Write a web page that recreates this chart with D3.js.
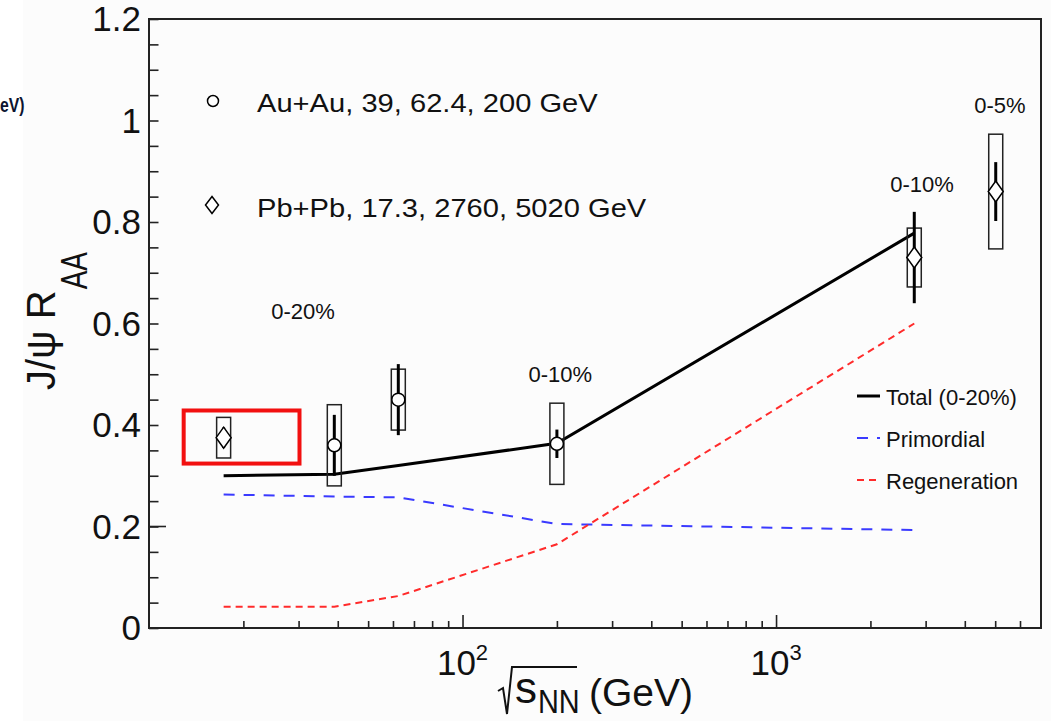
<!DOCTYPE html>
<html>
<head>
<meta charset="utf-8">
<script src="https://cdn.jsdelivr.net/npm/d3@7"></script>
<style>
  html, body { margin: 0; padding: 0; background: #ffffff; }
  svg { display: block; font-family: "Liberation Sans", Arial, Helvetica, sans-serif; }
</style>
</head>
<body>
<svg id="chart" width="1051" height="721"></svg>
<script>
// ---- Au+Au measurements (39, 62.4, 200 GeV) ----
const auAuEnergy = [39, 62.4, 200];
const auAuRaa    = [0.36, 0.45, 0.363];
const auAuStat   = [0.06, 0.07, 0.028];
const auAuSys    = [0.08, 0.06, 0.08];

// ---- Pb+Pb measurements (17.3, 2760, 5020 GeV) ----
const pbPbEnergy = [17.3, 2760, 5020];
const pbPbRaa    = [0.375, 0.73, 0.86];
const pbPbStat   = [0.02, 0.09, 0.058];
const pbPbSys    = [0.04, 0.058, 0.113];

// ---- transport model, 0-20% ----
const modelEnergy     = [17.3, 39, 62.4, 200, 2760];
const totalRaa        = [0.300, 0.303, 0.320, 0.364, 0.778];
const primordialRaa   = [0.263, 0.259, 0.2575, 0.205, 0.193];
const regenerationRaa = [0.042, 0.042, 0.063, 0.165, 0.600];

// ---- centrality labels ----
const centralityText = ["0-20%", "0-10%", "0-10%", "0-5%"];

// ---- axis ticks ----
const yMajorTicks = [0, 0.2, 0.4, 0.6, 0.8, 1.0, 1.2];
const yMinorTicks = d3.range(0, 1.2001, 0.05);
const xMajorTicks = [100, 1000];
const xMinorTicks = [20, 30, 40, 50, 60, 70, 80, 90, 200, 300, 400, 500, 600, 700, 800, 900, 2000, 3000, 4000, 5000, 6000];

// ---- legend entries ----
const dataLegend  = ["Au+Au, 39, 62.4, 200 GeV", "Pb+Pb, 17.3, 2760, 5020 GeV"];
const modelLegend = ["Total (0-20%)", "Primordial", "Regeneration"];

// ================= layout =================
const frame = { left: 149, right: 1041, top: 19, bottom: 628 };
const x = d3.scaleLog().domain([10, 7000]).range([frame.left, frame.right]);
const y = d3.scaleLinear().domain([0, 1.2]).range([frame.bottom, frame.top]);

const ink = "#111";
const blue = "#3a3aff";
const red = "#ff2b2b";
const boxHalfW = 7;

const svg = d3.select("#chart");

// page background
svg.append("rect").attr("width", 1051).attr("height", 721).attr("fill", "#ffffff");
svg.append("rect").attr("x", 23).attr("width", 1028).attr("height", 721).attr("fill", "#fcfcfc");

// caption fragment at the left edge
svg.append("text")
  .attr("transform", "translate(0,112) scale(0.75,1)")
  .attr("font-size", 21).attr("font-weight", "bold")
  .attr("fill", "#0c1430")
  .text("eV)");

// ---------------- axes ----------------
const gx = svg.append("g").attr("transform", `translate(0,${frame.bottom})`);
gx.call(d3.axisBottom(x).tickValues(xMinorTicks).tickSize(-7).tickFormat(""));
gx.call(g => g.select(".domain").remove());
const gx2 = svg.append("g").attr("transform", `translate(0,${frame.bottom})`);
gx2.call(d3.axisBottom(x).tickValues(xMajorTicks).tickSize(-13).tickFormat(""));
gx2.call(g => g.select(".domain").remove());
svg.selectAll(".tick line").attr("stroke", "#222").attr("stroke-width", 1.6);

// x tick labels as powers of ten
xMajorTicks.forEach(v => {
  const t = svg.append("text")
    .attr("x", x(v)).attr("y", 675)
    .attr("text-anchor", "middle")
    .attr("fill", ink);
  t.append("tspan").attr("font-size", 35).text("10");
  t.append("tspan").attr("font-size", 22).attr("dy", -15).text(String(Math.round(Math.log10(v))));
});

const gy = svg.append("g").attr("transform", `translate(${frame.left},0)`);
gy.call(d3.axisLeft(y).tickValues(yMinorTicks).tickSize(-9.5).tickFormat(""));
gy.call(g => g.select(".domain").remove());
gy.selectAll(".tick line").attr("stroke", "#222").attr("stroke-width", 1.6);
// the 0.2 tick is drawn longer
svg.append("line")
  .attr("x1", frame.left).attr("x2", frame.left + 17)
  .attr("y1", y(0.2)).attr("y2", y(0.2))
  .attr("stroke", "#222").attr("stroke-width", 1.6);

svg.append("g").selectAll("text").data(yMajorTicks).join("text")
  .attr("x", 141).attr("y", d => y(d))
  .attr("dy", "0.35em")
  .attr("text-anchor", "end")
  .attr("font-size", 35)
  .attr("fill", ink)
  .text(d => String(+d.toFixed(1)));

// frame
svg.append("rect")
  .attr("x", frame.left).attr("y", frame.top)
  .attr("width", frame.right - frame.left).attr("height", frame.bottom - frame.top)
  .attr("fill", "none").attr("stroke", "#222").attr("stroke-width", 2);

// ---------------- axis titles ----------------
// y: J/psi R_AA
const yTitle = svg.append("g").attr("transform", "translate(55,390) rotate(-90)");
const yMain = yTitle.append("text")
  .attr("x", 0).attr("y", 0)
  .attr("font-size", 40).attr("fill", ink)
  .text("J/\u03C8 R");
const yMainLen = yMain.node().getComputedTextLength();
yTitle.append("text")
  .attr("transform", `translate(${yMainLen + 1},32) scale(1,1.35)`)
  .attr("font-size", 28).attr("fill", ink)
  .text("AA");

// x: sqrt(s_NN) (GeV)
svg.append("path")
  .attr("d", "M498,691 L503,688 L507,714 L512,667 L577,667")
  .attr("fill", "none").attr("stroke", ink).attr("stroke-width", 2);
svg.append("text").attr("x", 515).attr("y", 703)
  .attr("font-size", 44).attr("fill", ink).text("s");
svg.append("text")
  .attr("transform", "translate(538,713) scale(0.85,1)")
  .attr("font-size", 34).attr("fill", ink).text("NN");
svg.append("text").attr("x", 589).attr("y", 706)
  .attr("font-size", 39).attr("fill", ink).text("(GeV)");

// ---------------- model curves ----------------
const model = modelEnergy.map((e, i) => ({ e, tot: totalRaa[i], pri: primordialRaa[i], reg: regenerationRaa[i] }));
const lineOf = key => d3.line().x(d => x(d.e)).y(d => y(d[key]))(model);

svg.append("path").attr("d", lineOf("pri"))
  .attr("fill", "none").attr("stroke", blue).attr("stroke-width", 2)
  .attr("stroke-dasharray", "11,9");
svg.append("path").attr("d", lineOf("reg"))
  .attr("fill", "none").attr("stroke", red).attr("stroke-width", 2)
  .attr("stroke-dasharray", "7,5");
svg.append("path").attr("d", lineOf("tot"))
  .attr("fill", "none").attr("stroke", "#000").attr("stroke-width", 3);

// ---------------- measurements ----------------
const auAu = auAuEnergy.map((e, i) => ({ e, v: auAuRaa[i], stat: auAuStat[i], sys: auAuSys[i] }));
const pbPb = pbPbEnergy.map((e, i) => ({ e, v: pbPbRaa[i], stat: pbPbStat[i], sys: pbPbSys[i] }));
const allPoints = auAu.concat(pbPb);

// systematic boxes
svg.append("g").selectAll("rect").data(allPoints).join("rect")
  .attr("x", d => x(d.e) - boxHalfW)
  .attr("y", d => y(d.v + d.sys))
  .attr("width", boxHalfW * 2)
  .attr("height", d => y(d.v - d.sys) - y(d.v + d.sys))
  .attr("fill", "none").attr("stroke", "#222").attr("stroke-width", 1.5);

// statistical bars
svg.append("g").selectAll("line").data(allPoints).join("line")
  .attr("x1", d => x(d.e)).attr("x2", d => x(d.e))
  .attr("y1", d => y(d.v + d.stat)).attr("y2", d => y(d.v - d.stat))
  .attr("stroke", "#000").attr("stroke-width", 3);

// markers
const diamond = (cx, cy, w, h) => `M${cx},${cy - h / 2} L${cx + w / 2},${cy} L${cx},${cy + h / 2} L${cx - w / 2},${cy} Z`;
svg.append("g").selectAll("circle").data(auAu).join("circle")
  .attr("cx", d => x(d.e)).attr("cy", d => y(d.v)).attr("r", 6.5)
  .attr("fill", "#fff").attr("stroke", "#000").attr("stroke-width", 1.5);
svg.append("g").selectAll("path").data(pbPb).join("path")
  .attr("d", d => diamond(x(d.e), y(d.v), 15, 21))
  .attr("fill", "#fff").attr("stroke", "#000").attr("stroke-width", 1.5);

// ---------------- centrality labels ----------------
const labelAnchors = [[31, 0.609], [205, 0.485], [2920, 0.86], [5180, 1.014]];
svg.append("g").selectAll("text").data(centralityText).join("text")
  .attr("x", (d, i) => x(labelAnchors[i][0]))
  .attr("y", (d, i) => y(labelAnchors[i][1]))
  .attr("text-anchor", "middle")
  .attr("font-size", 22).attr("fill", ink)
  .text(d => d);

// highlight frame around the 17.3 GeV point
svg.append("rect")
  .attr("x", x(12.9)).attr("y", y(0.4286))
  .attr("width", x(30.2) - x(12.9)).attr("height", y(0.324) - y(0.4286))
  .attr("fill", "none").attr("stroke", "#f21010").attr("stroke-width", 4);

// ---------------- legends ----------------
const legData = svg.append("g");
legData.append("circle").attr("cx", 213).attr("cy", 101).attr("r", 5.5)
  .attr("fill", "#fff").attr("stroke", "#000").attr("stroke-width", 1.5);
legData.append("path").attr("d", diamond(212, 205, 13, 17))
  .attr("fill", "#fff").attr("stroke", "#000").attr("stroke-width", 1.5);
legData.selectAll("text").data(dataLegend).join("text")
  .attr("transform", (d, i) => `translate(257,${111.5 + i * 105}) scale(1.12,1)`)
  .attr("font-size", 26).attr("fill", ink)
  .text(d => d);

const legModel = svg.append("g");
const modelStyles = [
  { color: "#000", width: 3, dash: null },
  { color: blue, width: 2, dash: "11,9" },
  { color: red, width: 2, dash: "7,5" }
];
modelLegend.forEach((name, i) => {
  const yy = 396 + i * 42;
  legModel.append("line")
    .attr("x1", 857).attr("x2", 880).attr("y1", yy).attr("y2", yy)
    .attr("stroke", modelStyles[i].color).attr("stroke-width", modelStyles[i].width)
    .attr("stroke-dasharray", modelStyles[i].dash);
  legModel.append("text")
    .attr("x", 886).attr("y", yy + 9)
    .attr("font-size", 22).attr("fill", ink)
    .text(name);
});
</script>
</body>
</html>
